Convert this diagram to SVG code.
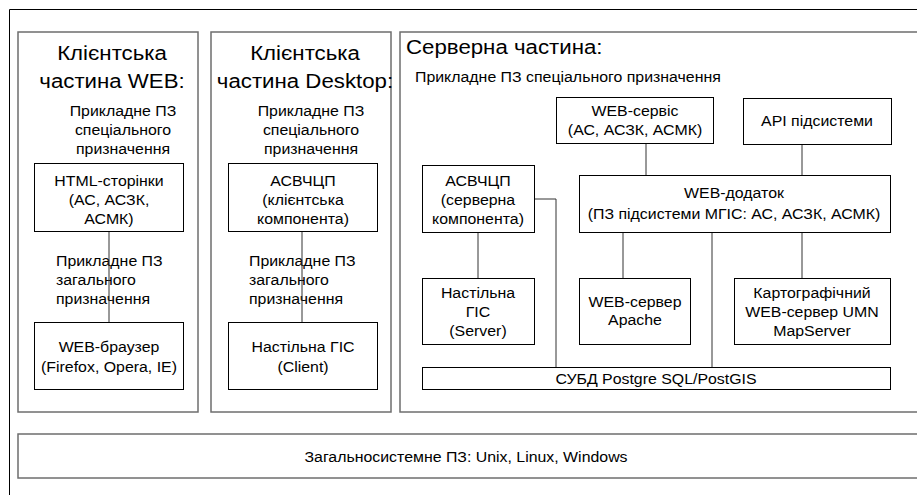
<svg xmlns="http://www.w3.org/2000/svg" width="917" height="495" viewBox="0 0 917 495">
<style>
text{font-family:"Liberation Sans",Arial,sans-serif;fill:#000}
.panel{fill:none;stroke:#6e6e6e;stroke-width:1.5}
.box{fill:#fff;stroke:#000;stroke-width:1}
.c{fill:none;stroke:#333;stroke-width:1}
.t1{font-size:21px}
.t2{font-size:15px}
.m{text-anchor:middle}
</style>
<rect width="917" height="495" fill="#fff"/>
<g id="frame"><path d="M9.5 500 V9.5 H920" fill="none" stroke="#000" stroke-width="1"/></g>
<g id="panel-web">
<rect class="panel" x="18" y="32" width="180" height="380"/>
<text class="t1 m" transform="translate(112,60) scale(1.06,1)">Клієнтська</text>
<text class="t1 m" transform="translate(112,88) scale(1.06,1)">частина WEB:</text>
<text class="t2 m" transform="translate(123,116) scale(1.06,1)">Прикладне ПЗ</text>
<text class="t2 m" transform="translate(123,135) scale(1.06,1)">спеціального</text>
<text class="t2 m" transform="translate(123,154) scale(1.06,1)">призначення</text>
<text class="t2" transform="translate(56,266) scale(1.06,1)">Прикладне ПЗ</text>
<text class="t2" transform="translate(56,285) scale(1.06,1)">загального</text>
<text class="t2" transform="translate(56,304) scale(1.06,1)">призначення</text>
</g>
<g id="panel-desktop">
<rect class="panel" x="211" y="32" width="180" height="380"/>
<text class="t1 m" transform="translate(305,60) scale(1.06,1)">Клієнтська</text>
<text class="t1 m" transform="translate(305,88) scale(1.06,1)">частина Desktop:</text>
<text class="t2 m" transform="translate(311,116) scale(1.06,1)">Прикладне ПЗ</text>
<text class="t2 m" transform="translate(311,135) scale(1.06,1)">спеціального</text>
<text class="t2 m" transform="translate(311,154) scale(1.06,1)">призначення</text>
<text class="t2" transform="translate(249,266) scale(1.06,1)">Прикладне ПЗ</text>
<text class="t2" transform="translate(249,285) scale(1.06,1)">загального</text>
<text class="t2" transform="translate(249,304) scale(1.06,1)">призначення</text>
</g>
<g id="panel-server">
<rect class="panel" x="400" y="32" width="530" height="380"/>
<text class="t1" transform="translate(406,54) scale(1.06,1)">Серверна частина:</text>
<text class="t2" transform="translate(415,82) scale(1.06,1)">Прикладне ПЗ спеціального призначення</text>
</g>
<g id="panel-os">
<rect class="panel" x="18" y="434" width="912" height="44"/>
<text class="t2 m" transform="translate(466,462) scale(1.06,1)">Загальносистемне ПЗ: Unix, Linux, Windows</text>
</g>
<g id="connectors">
<path class="c" d="M109 232 V322"/>
<path class="c" d="M302 232 V322"/>
<path class="c" d="M646 143 V175"/>
<path class="c" d="M802 144 V175"/>
<path class="c" d="M478 232 V278"/>
<path class="c" d="M534 199 H556 V367"/>
<path class="c" d="M623 232 V278"/>
<path class="c" d="M712 232 V367"/>
<path class="c" d="M802 232 V278"/>
</g>
<g id="html">
<rect class="box" x="34.5" y="163.5" width="149" height="68"/>
<text class="t2 m" transform="translate(109,186) scale(1.06,1)">HTML-сторінки</text>
<text class="t2 m" transform="translate(109,205) scale(1.06,1)">(АС, АСЗК,</text>
<text class="t2 m" transform="translate(109,224) scale(1.06,1)">АСМК)</text>
</g>
<g id="browser">
<rect class="box" x="34.5" y="322.5" width="149" height="67"/>
<text class="t2 m" transform="translate(109,352) scale(1.06,1)">WEB-браузер</text>
<text class="t2 m" transform="translate(109,372) scale(1.06,1)">(Firefox, Opera, IE)</text>
</g>
<g id="asvchcp-client">
<rect class="box" x="228.5" y="163.5" width="149" height="68"/>
<text class="t2 m" transform="translate(303,186) scale(1.06,1)">АСВЧЦП</text>
<text class="t2 m" transform="translate(303,205) scale(1.06,1)">(клієнтська</text>
<text class="t2 m" transform="translate(303,224) scale(1.06,1)">компонента)</text>
</g>
<g id="gis-client">
<rect class="box" x="228.5" y="322.5" width="149" height="67"/>
<text class="t2 m" transform="translate(303,352) scale(1.06,1)">Настільна ГІС</text>
<text class="t2 m" transform="translate(303,372) scale(1.06,1)">(Client)</text>
</g>
<g id="web-service">
<rect class="box" x="556.5" y="97.5" width="157" height="46"/>
<text class="t2 m" transform="translate(635,116) scale(1.06,1)">WEB-сервіс</text>
<text class="t2 m" transform="translate(635,135) scale(1.06,1)">(АС, АСЗК, АСМК)</text>
</g>
<g id="api">
<rect class="box" x="743.5" y="98.5" width="148" height="46"/>
<text class="t2 m" transform="translate(817,126) scale(1.06,1)">API підсистеми</text>
</g>
<g id="asvchcp-server">
<rect class="box" x="422.5" y="165.5" width="112" height="67"/>
<text class="t2 m" transform="translate(478,186) scale(1.06,1)">АСВЧЦП</text>
<text class="t2 m" transform="translate(478,205) scale(1.06,1)">(серверна</text>
<text class="t2 m" transform="translate(478,224) scale(1.06,1)">компонента)</text>
</g>
<g id="web-app">
<rect class="box" x="579.5" y="175.5" width="311" height="57"/>
<text class="t2 m" transform="translate(734,198) scale(1.06,1)">WEB-додаток</text>
<text class="t2 m" transform="translate(734,219) scale(1.06,1)">(ПЗ підсистеми МГІС: АС, АСЗК, АСМК)</text>
</g>
<g id="gis-server">
<rect class="box" x="422.5" y="278.5" width="112" height="66"/>
<text class="t2 m" transform="translate(478,298) scale(1.06,1)">Настільна</text>
<text class="t2 m" transform="translate(478,317) scale(1.06,1)">ГІС</text>
<text class="t2 m" transform="translate(478,336) scale(1.06,1)">(Server)</text>
</g>
<g id="apache">
<rect class="box" x="579.5" y="278.5" width="111" height="66"/>
<text class="t2 m" transform="translate(635,307) scale(1.06,1)">WEB-сервер</text>
<text class="t2 m" transform="translate(635,325) scale(1.06,1)">Apache</text>
</g>
<g id="mapserver">
<rect class="box" x="734.5" y="278.5" width="156" height="66"/>
<text class="t2 m" transform="translate(812,298) scale(1.06,1)">Картографічний</text>
<text class="t2 m" transform="translate(812,317) scale(1.06,1)">WEB-сервер UMN</text>
<text class="t2 m" transform="translate(812,336) scale(1.06,1)">MapServer</text>
</g>
<g id="dbms">
<rect class="box" x="422.5" y="367.5" width="468" height="22"/>
<text class="t2 m" transform="translate(656,384) scale(1.06,1)">СУБД Postgre SQL/PostGIS</text>
</g>
</svg>
